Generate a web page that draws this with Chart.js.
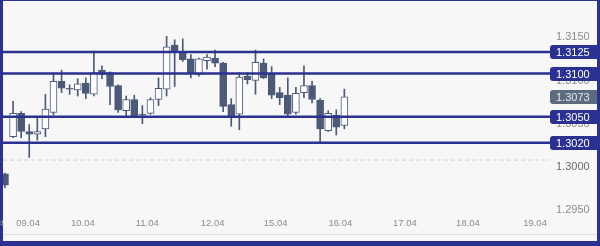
<!DOCTYPE html>
<html><head><meta charset="utf-8">
<script src="https://cdn.jsdelivr.net/npm/chart.js@4"></script>
<style>
html,body{margin:0;padding:0;background:#f7f7f7;overflow:hidden;}
canvas{display:block;}
</style></head><body>
<canvas id="c" width="600" height="246"></canvas>
<script>
// ---- data (3-hour candles) ----
const opens  = [1.2984,1.3027,1.3054,1.3033,1.3030,1.3036,1.3055,1.3091,1.3083,1.3081,1.3089,1.3076,1.3104,1.3101,1.3086,1.3057,1.3070,1.3053,1.3054,1.3070,1.3082,1.3133,1.3125,1.3117,1.3099,1.3115,1.3118,1.3112,1.3064,1.3053,1.3097,1.3092,1.3112,1.3099,1.3078,1.3075,1.3055,1.3078,1.3086,1.3069,1.3034,1.3052,1.3040];
const highs  = [1.2985,1.3068,1.3056,1.3041,1.3049,1.3076,1.3101,1.3104,1.3087,1.3094,1.3095,1.3126,1.3109,1.3102,1.3087,1.3074,1.3075,1.3063,1.3072,1.3095,1.3143,1.3139,1.3140,1.3122,1.3118,1.3122,1.3127,1.3113,1.3071,1.3101,1.3101,1.3127,1.3117,1.3108,1.3084,1.3095,1.3084,1.3109,1.3091,1.3071,1.3057,1.3058,1.3082];
const lows   = [1.2968,1.3026,1.3026,1.3003,1.3023,1.3027,1.3052,1.3078,1.3076,1.3074,1.3071,1.3074,1.3094,1.3064,1.3055,1.3051,1.3050,1.3042,1.3053,1.3063,1.3074,1.3085,1.3114,1.3095,1.3097,1.3105,1.3108,1.3056,1.3039,1.3035,1.3088,1.3076,1.3094,1.3071,1.3064,1.3050,1.3053,1.3072,1.3066,1.3020,1.3033,1.3029,1.3036];
const closes = [1.2971,1.3054,1.3033,1.3030,1.3033,1.3059,1.3091,1.3083,1.3082,1.3088,1.3077,1.3101,1.3099,1.3085,1.3058,1.3070,1.3051,1.3052,1.3070,1.3083,1.3131,1.3125,1.3116,1.3100,1.3117,1.3119,1.3112,1.3062,1.3051,1.3096,1.3093,1.3113,1.3095,1.3075,1.3072,1.3053,1.3077,1.3086,1.3070,1.3036,1.3054,1.3038,1.3073];
const levels = [1.3125, 1.3100, 1.3050, 1.3020];
const lastPrice = 1.3073;
const roundLevel = 1.3000;
const yTickValues = [1.3150, 1.3100, 1.3050, 1.3000, 1.2950];
const dayLabels = ['08.04','09.04','10.04','11.04','12.04','15.04','16.04','17.04','18.04','19.04'];
const dayLabelPos = [-1.6, 2.85, 9.65, 17.6, 25.7, 33.5, 41.5, 49.5, 57.3, 65.6];

// ---- view ----
const X_MIN = -0.2475, X_MAX = 67.45;
const Y_MIN = 1.2937613, Y_MAX = 1.3183855;
const NAVY = '#2b3190', SLATE = '#4b5a78', HOLLOW = '#fdfdfd', GREYBOX = '#5d6b7e', BG = '#f7f7f7';

const idx = opens.map((_, i) => i);
const wickData = idx.map(i => ({x: i, y: [lows[i], highs[i]]}));
const bodyData = idx.map(i => ({x: i, y: [opens[i], closes[i]]}));
const bodyFill = idx.map(i => closes[i] >= opens[i] ? HOLLOW : SLATE);

const levelSets = levels.map(v => ({
  type: 'line', data: [{x: X_MIN, y: v}, {x: X_MAX, y: v}],
  borderColor: NAVY, borderWidth: 2.5, pointRadius: 0, order: 0
}));

const framePlugin = {
  id: 'frame',
  beforeDraw(chart) {
    const ctx = chart.ctx;
    ctx.save();
    ctx.fillStyle = BG; ctx.fillRect(0, 0, 600, 246);
    ctx.fillStyle = NAVY;
    ctx.fillRect(0, 0, 600, 1);
    ctx.fillRect(0, 0, 3, 246);
    ctx.fillRect(597, 0, 3, 246);
    ctx.fillRect(0, 241, 600, 5);
    ctx.strokeStyle = '#dedede'; ctx.lineWidth = 1;
    ctx.beginPath(); ctx.moveTo(3, 234.5); ctx.lineTo(597, 234.5); ctx.stroke();
    ctx.restore();
  },
  afterDraw(chart) {
    const ctx = chart.ctx, ys = chart.scales.y, right = chart.chartArea.right;
    ctx.save();
    ctx.textAlign = 'left'; ctx.textBaseline = 'middle';
    ctx.font = '11px "Liberation Sans", Arial, sans-serif';
    yTickValues.forEach(v => {
      ctx.fillStyle = (v === roundLevel) ? '#6a6a6a' : '#8c8c8c';
      ctx.fillText(v.toFixed(4), right + 6, ys.getPixelForValue(v) + 7);
    });
    function box(v, fill, txt) {
      const y = Math.round(ys.getPixelForValue(v)) - 7, x = right, w = 597 - right, h = 14, r = 3;
      ctx.fillStyle = fill;
      ctx.beginPath();
      ctx.moveTo(x + r, y); ctx.lineTo(x + w, y); ctx.lineTo(x + w, y + h); ctx.lineTo(x + r, y + h);
      ctx.quadraticCurveTo(x, y + h, x, y + h - r); ctx.lineTo(x, y + r);
      ctx.quadraticCurveTo(x, y, x + r, y); ctx.closePath(); ctx.fill();
      ctx.fillStyle = txt;
      ctx.fillText(v.toFixed(4), x + 6, y + h / 2 + 0.5);
    }
    box(lastPrice, GREYBOX, '#e6e8ec');
    levels.forEach(v => box(v, NAVY, '#ffffff'));
    ctx.restore();
  }
};

new Chart(document.getElementById('c'), {
  type: 'bar',
  data: {
    datasets: [
      ...levelSets,
      {type: 'line', data: [{x: X_MIN, y: roundLevel}, {x: X_MAX, y: roundLevel}],
       borderColor: '#cfcfcf', borderWidth: 1, borderDash: [4, 3], pointRadius: 0, order: 5},
      {type: 'bar', data: bodyData, backgroundColor: bodyFill, borderColor: SLATE, borderWidth: 1,
       borderSkipped: false, barThickness: 7, grouped: false, order: 1},
      {type: 'bar', data: wickData, backgroundColor: SLATE, barThickness: 1, grouped: false, order: 2}
    ]
  },
  options: {
    responsive: false, animation: false, devicePixelRatio: 1,
    layout: {autoPadding: false, padding: {left: 3, right: 50, top: 1, bottom: 5}},
    plugins: {legend: {display: false}, tooltip: {enabled: false}},
    scales: {
      x: {
        type: 'linear', min: X_MIN, max: X_MAX, offset: false,
        grid: {display: false, drawTicks: false},
        border: {display: false},
        afterBuildTicks: s => { s.ticks = dayLabelPos.map(v => ({value: v})); },
        afterFit: s => { s.height = 27; s.paddingLeft = 0; s.paddingRight = 0; s.paddingTop = 0; s.paddingBottom = 0; },
        ticks: {
          autoSkip: false, maxRotation: 0, minRotation: 0, padding: 4,
          color: '#8c8c8c', font: {family: '"Liberation Sans", Arial, sans-serif', size: 9.5},
          callback: (v, i) => dayLabels[i]
        }
      },
      y: {type: 'linear', display: false, min: Y_MIN, max: Y_MAX}
    }
  },
  plugins: [framePlugin]
});
</script>
</body></html>
